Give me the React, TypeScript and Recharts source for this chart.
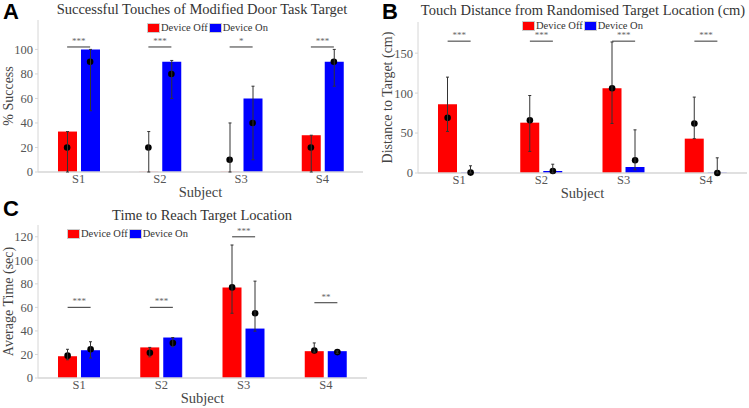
import React from 'react';
import { ComposedChart, Bar, Scatter, ErrorBar, XAxis, YAxis, Legend } from 'recharts';

const SUBJECTS = ['S1', 'S2', 'S3', 'S4'];

// A: % success (S2/S3 device-off bars are essentially empty)
const A_OFF = [33, 0.2, 0.2, 30];
const A_ON = [100, 90, 60, 90];
const A_OFF_DOT = [20, 20, 10, 20];
const A_ON_DOT = [90, 80, 40, 90];
const A_OFF_LO = [0, 0, 0, 0];
const A_OFF_HI = [33, 33, 40, 30];
const A_ON_LO = [50, 60, 10, 70];
const A_ON_HI = [100, 91, 70, 100];
const A_SIG = [102, 102, 102, 102];
const A_STARS = ['***', '***', '*', '***'];
const A_TICKS = [0, 20, 40, 60, 80, 100];

// B: touch distance (cm)
const B_OFF = [86, 63, 106, 43];
const B_ON = [0.5, 2.5, 7.5, 0.5];
const B_OFF_DOT = [69, 66, 106, 62];
const B_ON_DOT = [0.5, 2.5, 16, 0];
const B_OFF_LO = [52, 27, 62, 43];
const B_OFF_HI = [120, 97, 164, 95];
const B_ON_LO = [0, 0, 4, 0];
const B_ON_HI = [9, 11, 54, 19];
const B_SIG = [165, 165, 165, 165];
const B_STARS = ['***', '***', '***', '***'];
const B_TICKS = [0, 50, 100, 150];

// C: time to reach target (sec)
const C_OFF = [18.5, 26, 77, 22.8];
const C_ON = [23.6, 34.4, 42, 22.8];
const C_OFF_DOT = [19, 21.5, 77, 23.4];
const C_ON_DOT = [24.4, 29.8, 55, 22];
const C_OFF_LO = [15.5, 18, 55, 22];
const C_OFF_HI = [24.4, 26, 113, 29.8];
const C_ON_LO = [17, 26.6, 39.8, 21];
const C_ON_HI = [30.8, 34.4, 82.3, 23];
const C_SIG = [60, 60, 120, 64];
const C_STARS = ['***', '***', '***', '**'];
const C_TICKS = [0, 20, 40, 60, 80, 100, 120];

const SERIF = '"Liberation Serif", "DejaVu Serif", serif';
const RED = '#ff0000';
const BLUE = '#0000ff';
const BAR_SIZE = 19;
const BAR_GAP = 4;
const SHIFT = (BAR_SIZE + BAR_GAP) / 2;

function buildRows(off, on, offDot, onDot, offLo, offHi, onLo, onHi, sig, stars) {
  return SUBJECTS.map((subject, i) => ({
    subject,
    off: off[i],
    on: on[i],
    offDot: offDot[i],
    onDot: onDot[i],
    offErr: [off[i] - offLo[i], offHi[i] - off[i]],
    onErr: [on[i] - onLo[i], onHi[i] - on[i]],
    sig: sig[i],
    stars: stars[i],
  }));
}

const rowsA = buildRows(A_OFF, A_ON, A_OFF_DOT, A_ON_DOT, A_OFF_LO, A_OFF_HI, A_ON_LO, A_ON_HI, A_SIG, A_STARS);
const rowsB = buildRows(B_OFF, B_ON, B_OFF_DOT, B_ON_DOT, B_OFF_LO, B_OFF_HI, B_ON_LO, B_ON_HI, B_SIG, B_STARS);
const rowsC = buildRows(C_OFF, C_ON, C_OFF_DOT, C_ON_DOT, C_OFF_LO, C_OFF_HI, C_ON_LO, C_ON_HI, C_SIG, C_STARS);

const dotShape = (dx: number) => (props: any) => (
  <circle cx={props.cx + dx} cy={props.cy} r={3.3} fill="#000" />
);

const sigShape = (props: any) => (
  <g>
    <line x1={props.cx - SHIFT} x2={props.cx + SHIFT} y1={props.cy} y2={props.cy} stroke="#555" strokeWidth={1.2} />
    <text x={props.cx} y={props.cy - 3} textAnchor="middle" fontFamily={SERIF} fontSize={9} fill="#666">
      {props.payload.stars}
    </text>
  </g>
);

const LegendBox = (props: any) => (
  <div style={{ display: 'flex', alignItems: 'center', fontFamily: SERIF, fontSize: 10.5, color: '#333', lineHeight: '11px', whiteSpace: 'nowrap' }}>
    {(props.payload || []).filter((p: any) => p.type !== 'none').map((p: any) => (
      <span key={p.value} style={{ display: 'flex', alignItems: 'center' }}>
        <span style={{ display: 'inline-block', width: 11, height: 8, background: p.color, border: '0.5px solid #ccc', marginRight: 1 }} />
        <span style={{ marginRight: 1 }}>{p.value}</span>
      </span>
    ))}
  </div>
);

const tickStyle = { fontFamily: SERIF, fontSize: 12.5, fill: '#555' };

function Panel(props: any) {
  const { left, top, width, height, margin, yWidth, domain, ticks, rows, yLabel, yLabelOffset, title, titleTop, titleCenter, letter, letterTop, letterLeft, legendLeft, legendTop } = props;
  return (
    <div style={{ position: 'absolute', left, top, width, height }}>
      <ComposedChart width={width} height={height} data={rows} margin={margin} barSize={BAR_SIZE} barGap={BAR_GAP}>
        <XAxis
          dataKey="subject"
          height={30}
          stroke="#d6d6d6"
          strokeWidth={1.5}
          tickLine={false}
          tickSize={2}
          tickMargin={0}
          tick={tickStyle}
          label={{ value: 'Subject', position: 'insideBottom', offset: 5, style: { fontFamily: SERIF, fontSize: 14.5, fill: '#444' } }}
        />
        <YAxis
          width={yWidth}
          domain={domain}
          ticks={ticks}
          stroke="#d6d6d6"
          tickSize={3}
          tickMargin={2}
          tick={tickStyle}
          label={{ value: yLabel, angle: -90, position: 'insideLeft', offset: yLabelOffset, style: { textAnchor: 'middle', fontFamily: SERIF, fontSize: 14, fill: '#444' } }}
        />
        <Legend
          layout="horizontal"
          verticalAlign="middle"
          align="center"
          content={<LegendBox />}
          wrapperStyle={{ left: legendLeft, top: legendTop, width: 'auto', height: 'auto' }}
        />
        <Bar dataKey="off" name="Device Off" fill={RED} isAnimationActive={false}>
          <ErrorBar dataKey="offErr" width={1.5} stroke="#333" strokeWidth={1} direction="y" zIndex={650} />
        </Bar>
        <Bar dataKey="on" name="Device On" fill={BLUE} isAnimationActive={false}>
          <ErrorBar dataKey="onErr" width={1.5} stroke="#333" strokeWidth={1} direction="y" zIndex={650} />
        </Bar>
        <Scatter dataKey="offDot" legendType="none" shape={dotShape(-SHIFT)} isAnimationActive={false} />
        <Scatter dataKey="onDot" legendType="none" shape={dotShape(SHIFT)} isAnimationActive={false} />
        <Scatter dataKey="sig" legendType="none" shape={sigShape} isAnimationActive={false} />
      </ComposedChart>
      <div style={{ position: 'absolute', left: titleCenter - 200, width: 400, top: titleTop, textAlign: 'center', fontFamily: SERIF, fontSize: 14.5, color: '#333', whiteSpace: 'nowrap' }}>
        {title}
      </div>
      <div style={{ position: 'absolute', left: letterLeft, top: letterTop, fontFamily: '"Liberation Sans", Arial, sans-serif', fontWeight: 'bold', fontSize: 22, color: '#000', lineHeight: '22px' }}>
        {letter}
      </div>
    </div>
  );
}

export default function App() {
  return (
    <div style={{ position: 'absolute', left: 0, top: 0, width: 749, height: 408, background: '#fff', overflow: 'hidden' }}>
      <Panel
        left={0} top={0} width={370} height={202}
        margin={{ top: 20, right: 7, bottom: 0, left: 0 }}
        yWidth={38} domain={[0, 124]} ticks={A_TICKS} rows={rowsA}
        yLabel="% Success" yLabelOffset={8}
        title="Successful Touches of Modified Door Task Target" titleTop={1} titleCenter={202}
        letter="A" letterLeft={3} letterTop={1}
        legendLeft={147} legendTop={22}
      />
      <Panel
        left={375} top={0} width={374} height={203}
        margin={{ top: 22, right: 2, bottom: 0, left: 0 }}
        yWidth={43} domain={[0, 189]} ticks={B_TICKS} rows={rowsB}
        yLabel="Distance to Target (cm)" yLabelOffset={12}
        title="Touch Distance from Randomised Target Location (cm)" titleTop={2} titleCenter={208}
        letter="B" letterLeft={7} letterTop={1}
        legendLeft={147} legendTop={20}
      />
      <Panel
        left={0} top={195} width={370} height={213}
        margin={{ top: 30, right: 3, bottom: 0, left: 0 }}
        yWidth={38} domain={[0, 130]} ticks={C_TICKS} rows={rowsC}
        yLabel="Average Time (sec)" yLabelOffset={8}
        title="Time to Reach Target Location" titleTop={12} titleCenter={202}
        letter="C" letterLeft={3} letterTop={3}
        legendLeft={67} legendTop={33}
      />
    </div>
  );
}
